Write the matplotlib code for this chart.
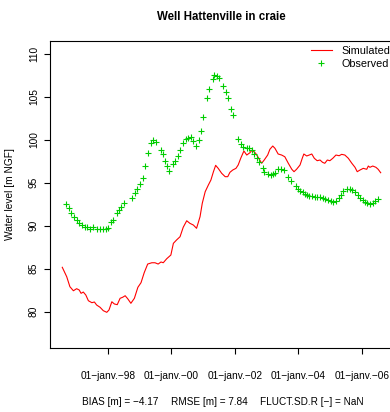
import matplotlib
matplotlib.use("Agg")
import matplotlib.pyplot as plt
import numpy as np
import pandas as pd

plt.rcParams['font.family'] = ['Liberation Sans', 'DejaVu Sans']

# simulated water level (decimal year, m NGF)
sim_year = [1996.56, 1996.70, 1996.80, 1996.91, 1997.01, 1997.09, 1997.15, 1997.22,
            1997.30, 1997.38, 1997.49, 1997.57, 1997.64, 1997.75, 1997.85, 1997.96,
            1998.03, 1998.12, 1998.20, 1998.29, 1998.38, 1998.46, 1998.54, 1998.62,
            1998.72, 1998.83, 1998.94, 1999.04, 1999.14, 1999.25, 1999.38, 1999.48,
            1999.58, 1999.67, 1999.74, 1999.85, 1999.98, 2000.06, 2000.16, 2000.27,
            2000.37, 2000.48, 2000.58, 2000.69, 2000.79, 2000.90, 2000.97, 2001.06,
            2001.16, 2001.24, 2001.32, 2001.39, 2001.47, 2001.58, 2001.69, 2001.77,
            2001.84, 2001.93, 2002.03, 2002.10, 2002.18, 2002.28, 2002.37, 2002.47,
            2002.54, 2002.65, 2002.73, 2002.84, 2002.92, 2003.03, 2003.10, 2003.19,
            2003.26, 2003.36, 2003.47, 2003.57, 2003.68, 2003.79, 2003.86, 2003.94,
            2004.05, 2004.12, 2004.17, 2004.26, 2004.34, 2004.42, 2004.50, 2004.59,
            2004.68, 2004.76, 2004.83, 2004.91, 2004.99, 2005.08, 2005.18, 2005.28,
            2005.36, 2005.46, 2005.57, 2005.68, 2005.78, 2005.85, 2005.94, 2006.04,
            2006.15, 2006.20, 2006.25, 2006.34, 2006.44, 2006.51, 2006.59]
sim_level = [85.17, 84.07, 82.91, 82.44, 82.68, 82.53, 82.14, 82.29,
             81.94, 81.28, 81.05, 81.13, 80.78, 80.51, 80.12, 79.93,
             80.20, 81.16, 80.90, 80.82, 81.56, 81.68, 81.86, 81.51,
             80.98, 81.56, 82.84, 83.38, 84.54, 85.55, 85.70, 85.70,
             85.55, 85.79, 85.70, 86.17, 86.60, 87.96, 88.35, 88.73,
             89.83, 90.59, 90.29, 90.09, 89.71, 91.06, 92.62, 93.97,
             94.75, 95.33, 96.30, 97.04, 96.69, 96.11, 95.72, 95.72,
             96.23, 96.50, 96.69, 97.08, 97.86, 98.71, 98.24, 98.51,
             98.82, 98.44, 97.97, 97.28, 97.66, 98.24, 98.91, 99.29,
             99.02, 98.36, 98.24, 98.04, 97.28, 96.58, 96.30, 96.58,
             97.08, 97.86, 98.36, 98.13, 98.24, 98.36, 97.86, 97.58,
             97.66, 97.39, 97.28, 97.66, 97.58, 97.86, 98.24, 98.16,
             98.32, 98.24, 97.86, 97.28, 96.81, 96.30, 96.50, 96.69,
             96.58, 96.96, 96.81, 96.96, 96.81, 96.58, 96.18]

# observed water level
obs_year = [1996.68, 1996.76, 1996.84, 1996.93, 1997.01, 1997.10, 1997.18, 1997.27,
            1997.35, 1997.43, 1997.52, 1997.66, 1997.75, 1997.83, 1997.92, 1998.00,
            1998.09, 1998.17, 1998.29, 1998.36, 1998.42, 1998.50, 1998.75, 1998.84,
            1998.92, 1999.01, 1999.09, 1999.17, 1999.27, 1999.34, 1999.43, 1999.50,
            1999.66, 1999.72, 1999.80, 1999.85, 1999.93, 2000.04, 2000.11, 2000.20,
            2000.27, 2000.36, 2000.46, 2000.53, 2000.60, 2000.69, 2000.77, 2000.87,
            2000.93, 2001.00, 2001.12, 2001.17, 2001.30, 2001.35, 2001.43, 2001.49,
            2001.63, 2001.71, 2001.79, 2001.86, 2001.93, 2002.11, 2002.18, 2002.24,
            2002.37, 2002.45, 2002.53, 2002.60, 2002.68, 2002.77, 2002.87, 2002.92,
            2003.05, 2003.12, 2003.21, 2003.27, 2003.36, 2003.45, 2003.54, 2003.66,
            2003.78, 2003.91, 2003.97, 2004.04, 2004.13, 2004.20, 2004.27, 2004.34,
            2004.43, 2004.52, 2004.60, 2004.68, 2004.76, 2004.84, 2004.94, 2005.02,
            2005.10, 2005.18, 2005.26, 2005.33, 2005.41, 2005.52, 2005.61, 2005.70,
            2005.78, 2005.86, 2005.94, 2006.02, 2006.09, 2006.17, 2006.25, 2006.34,
            2006.42, 2006.49]
obs_level = [92.54, 92.04, 91.49, 91.06, 90.68, 90.36, 90.06, 89.90,
             89.83, 89.63, 89.90, 89.63, 89.63, 89.63, 89.63, 89.74,
             90.44, 90.68, 91.53, 91.84, 92.22, 92.62, 93.20, 93.85,
             94.32, 94.83, 95.53, 96.93, 98.44, 99.60, 99.95, 99.79,
             98.82, 98.34, 97.49, 97.02, 96.34, 97.25, 97.60, 98.16,
             98.82, 99.60, 100.08, 100.22, 100.34, 99.84, 99.35, 99.97,
             100.98, 102.61, 104.84, 105.89, 107.05, 107.56, 107.44, 107.17,
             106.27, 105.54, 104.84, 103.56, 102.88, 100.07, 99.49, 99.14,
             99.02, 99.02, 98.82, 98.32, 97.86, 97.39, 96.69, 96.23,
             96.03, 95.91, 96.03, 96.20, 96.58, 96.59, 96.46, 95.72,
             95.22, 94.63, 94.31, 94.03, 93.88, 93.70, 93.59, 93.47,
             93.43, 93.41, 93.35, 93.35, 93.24, 93.12, 93.03, 92.92,
             92.81, 92.89, 93.24, 93.64, 94.03, 94.26, 94.31, 94.17,
             93.90, 93.59, 93.29, 93.03, 92.77, 92.62, 92.54, 92.65,
             92.89, 93.10]

tick_years = [1998, 2000, 2002, 2004, 2006]
tick_labels = ["01\u2212janv.\u221298", "01\u2212janv.\u221200", "01\u2212janv.\u221202",
               "01\u2212janv.\u221204", "01\u2212janv.\u221206"]


def to_date(y):
    return pd.Timestamp(f"{int(y)}-01-01") + pd.Timedelta(days=(y % 1) * 365.25)


sim_dates = [to_date(y) for y in sim_year]
obs_dates = [to_date(y) for y in obs_year]

fig = plt.figure(figsize=(3.9, 4.12), dpi=100)
ax = fig.add_axes([0.1282, 0.1546, 0.8805, 0.7466])

ax.plot(sim_dates, sim_level, color="#ff0000", lw=0.8, label="Simulated")
ax.plot(obs_dates, obs_level, ls="none", marker="+", ms=5, mew=0.8,
        color="#00cd00", label="Observed")

ax.set_xlim(to_date(1996.173), to_date(2006.99))
ax.set_ylim(75.74, 111.55)

ax.set_xticks([to_date(y) for y in tick_years])
ax.set_xticklabels(tick_labels)
ax.set_yticks([80, 85, 90, 95, 100, 105, 110])
ax.tick_params(axis="both", direction="out", length=4, width=0.8, labelsize=7.3)
ax.tick_params(axis="x", pad=12)
ax.tick_params(axis="y", pad=4)
for lab in ax.get_yticklabels():
    lab.set_rotation(90)
    lab.set_va("center")
for sp in ax.spines.values():
    sp.set_linewidth(0.8)

ax.set_ylabel("Water level [m NGF]", fontsize=7.3, labelpad=10)
fig.text(0.568, 0.9587, "Well Hattenville in craie", ha="center", va="center",
         fontsize=8.3, fontweight="bold")

ax.legend(loc="upper left", bbox_to_anchor=(311 / 390, 1 - 46 / 412),
          bbox_transform=fig.transFigure, frameon=False, fontsize=7.8,
          handlelength=1.9, handletextpad=0.9, borderpad=0, borderaxespad=0,
          labelspacing=0.25)

fig.text(81.7 / 390, 1 - 401.7 / 412, "BIAS [m] = \u22124.17", fontsize=7.2, va="center")
fig.text(171 / 390, 1 - 401.7 / 412, "RMSE [m] = 7.84", fontsize=7.2, va="center")
fig.text(260 / 390, 1 - 401.7 / 412, "FLUCT.SD.R [\u2212] = NaN", fontsize=7.2, va="center")

fig.savefig("out.png", dpi=100)
